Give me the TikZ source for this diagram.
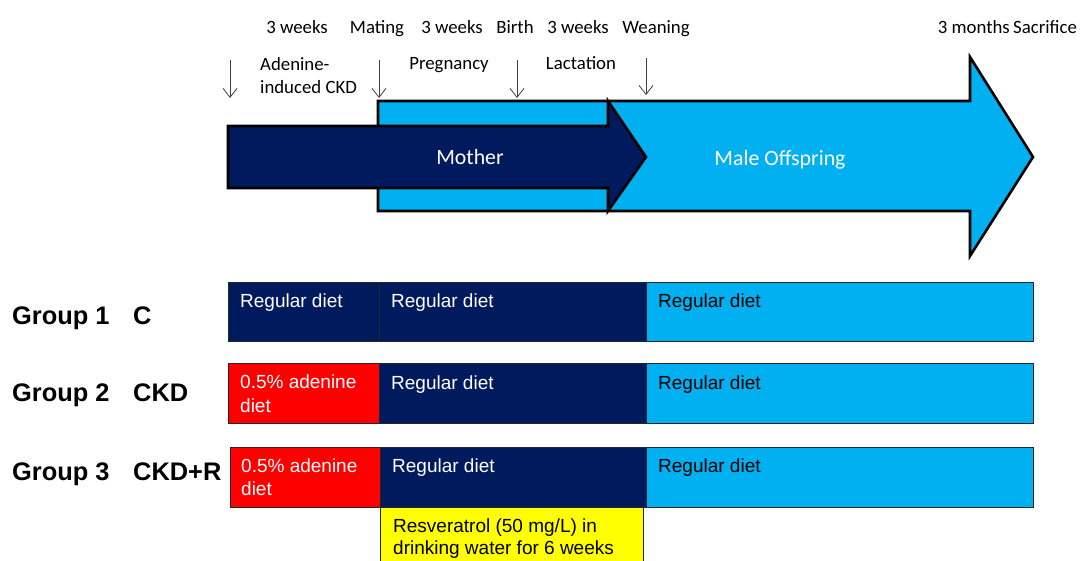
\documentclass[tikz,border=0pt]{standalone}
\usepackage{fontspec}
\setmainfont{Liberation Sans}
\newfontfamily\calibri{Carlito}
\usetikzlibrary{arrows.meta}
\definecolor{navy}{RGB}{0,26,94}
\definecolor{lblue}{RGB}{0,176,240}
\definecolor{cellred}{RGB}{255,0,0}
\definecolor{cellyellow}{RGB}{255,255,0}
\begin{document}
\begin{tikzpicture}[x=1pt,y=-1pt,
  toplbl/.style={font=\calibri\fontsize{18.8}{22}\selectfont, inner sep=0, anchor=base},
  arrlbl/.style={font=\calibri\fontsize{21.8}{26}\selectfont, text=white, inner sep=0, anchor=base},
  celltxt/.style={font=\fontsize{19}{23}\selectfont, inner sep=0, anchor=base west},
  grp/.style={font=\bfseries\fontsize{25.4}{29}\selectfont, inner sep=0, anchor=base west},
  bigarrow/.style={draw=black, line width=2.6pt, line join=miter},
  cell/.style={draw=black!85, line width=0.9pt},
  tick/.style={draw=black!75, line width=0.8pt, -{Straight Barb[length=9pt,width=14pt]}}
]
\useasboundingbox (0,0) rectangle (1082,560);

% top labels
\node[toplbl] (w1) at (297,33) {3 weeks};
\node[toplbl] (mat) at (377,33) {Mating};
\node[toplbl] (w2) at (452,33) {3 weeks};
\node[toplbl] (bir) at (515,33) {Birth};
\node[toplbl] (w3) at (578,33) {3 weeks};
\node[toplbl] (wea) at (656,33) {Weaning};
\node[toplbl, anchor=base east] (mon) at (1010,33) {3 months};
\node[toplbl, anchor=base west] (sac) at (1013,33) {Sacrifice};

\node[toplbl, anchor=base west] (ade1) at (260,70) {Adenine-};
\node[toplbl, anchor=base west] (ade2) at (260,93) {induced CKD};
\node[toplbl] (preg) at (449,69) {Pregnancy};
\node[toplbl] (lact) at (581,69) {Lactation};

% small downward arrows
\coordinate (t1a) at (230,60); \coordinate (t1b) at (230,98);
\coordinate (t2a) at (379,60); \coordinate (t2b) at (379,98);
\coordinate (t3a) at (517,60); \coordinate (t3b) at (517,98);
\coordinate (t4a) at (646,58); \coordinate (t4b) at (646,95);
\draw[tick] (t1a) -- (t1b);
\draw[tick] (t2a) -- (t2b);
\draw[tick] (t3a) -- (t3b);
\draw[tick] (t4a) -- (t4b);

% Male offspring arrow
\filldraw[bigarrow, fill=lblue] (378,101) -- (970,101) -- (970,57) -- (1033,157)
   -- (970,256) -- (970,211) -- (378,211) -- cycle;
% Mother arrow
\filldraw[bigarrow, fill=navy] (228,126) -- (608,126) -- (608,101) -- (646,157)
   -- (608,211) -- (608,188) -- (228,188) -- cycle;
\node[arrlbl] (mother) at (470,164) {Mother};
\node[arrlbl] (male) at (780,165) {Male Offspring};

% Group labels
\node[grp] (g1) at (12,324.5) {Group 1};
\node[grp] (g2) at (12,401.5) {Group 2};
\node[grp] (g3) at (12,480.5) {Group 3};
\node[grp] (c1) at (133,324.5) {C};
\node[grp] (c2) at (133,401.5) {CKD};
\node[grp] (c3) at (133,480.5) {CKD+R};

% Row 1
\filldraw[cell, fill=navy] (228,282) rectangle (379,341);
\filldraw[cell, fill=navy] (379,282) rectangle (646,341);
\filldraw[cell, fill=lblue] (646,282) rectangle (1033,341);
\node[celltxt, text=white] (r1a) at (240,307) {Regular diet};
\node[celltxt, text=white] (r1b) at (391,307) {Regular diet};
\node[celltxt, text=black] (r1c) at (658,307) {Regular diet};

% Row 2
\filldraw[cell, fill=cellred] (228,363) rectangle (379,423);
\filldraw[cell, fill=navy] (379,363) rectangle (646,423);
\filldraw[cell, fill=lblue] (646,363) rectangle (1033,423);
\node[celltxt, text=white] (r2a1) at (240,388.5) {0.5\% adenine};
\node[celltxt, text=white] (r2a2) at (240,412) {diet};
\node[celltxt, text=white] (r2b) at (391,389) {Regular diet};
\node[celltxt, text=black] (r2c) at (658,389) {Regular diet};

% Row 3
\filldraw[cell, fill=cellred] (230,447) rectangle (380,507);
\filldraw[cell, fill=navy] (380,447) rectangle (646,507);
\filldraw[cell, fill=lblue] (646,447) rectangle (1033,507);
\node[celltxt, text=white] (r3a1) at (241,472) {0.5\% adenine};
\node[celltxt, text=white] (r3a2) at (241,495.5) {diet};
\node[celltxt, text=white] (r3b) at (392,472) {Regular diet};
\node[celltxt, text=black] (r3c) at (658,472) {Regular diet};

% Yellow box
\filldraw[cell, fill=cellyellow] (380,507) rectangle (643,575);
\node[celltxt, text=black] (res1) at (393,532) {Resveratrol (50 mg/L) in};
\node[celltxt, text=black] (res2) at (393,554) {drinking water for 6 weeks};
\end{tikzpicture}
\end{document}
